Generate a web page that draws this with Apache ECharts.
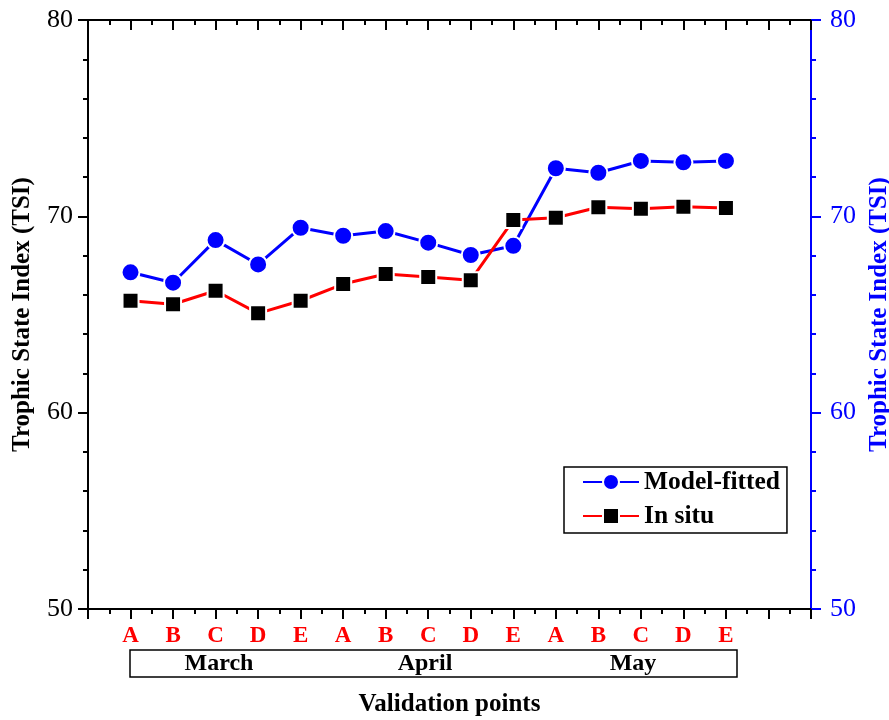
<!DOCTYPE html>
<html>
<head>
<meta charset="utf-8">
<script src="https://cdn.jsdelivr.net/npm/echarts@6/dist/echarts.min.js"></script>
<style>html,body{margin:0;padding:0;background:#fff;}#c{width:889px;height:720px;}</style>
</head>
<body>
<div id="c"></div>
<script>
// ---- data ----
var pointLabels = ['A','B','C','D','E','A','B','C','D','E','A','B','C','D','E'];
var months = ['March','April','May'];
var modelFitted = [67.15,66.62,68.79,67.55,69.42,69.01,69.25,68.66,68.03,68.50,72.45,72.22,72.82,72.75,72.82];
var inSitu = [65.70,65.52,66.21,65.06,65.70,66.55,67.06,66.91,66.75,69.81,69.93,70.46,70.39,70.49,70.42];
var yTicks = [50,60,70,80];

var FONT = '"Liberation Serif","Times New Roman",serif';
function pairs(arr){ return arr.map(function(v,i){ return [i+1, v]; }); }

var chart = echarts.init(document.getElementById('c'));
var option = {
  backgroundColor: '#fff',
  animation: false,
  grid: { left: 88, right: 78, top: 20, bottom: 111, containLabel: false, outerBoundsMode: 'none' },
  legend: {
    orient: 'vertical',
    left: 564, top: 467,
    padding: [2, 7, 4, 18],
    itemGap: 8,
    itemWidth: 56, itemHeight: 20,
    borderColor: '#000', borderWidth: 1.5,
    backgroundColor: '#fff',
    textStyle: { fontFamily: FONT, fontWeight: 'bold', fontSize: 25.5, color: '#000' },
    data: ['Model-fitted', 'In situ']
  },
  xAxis: [{
    type: 'value', min: 0, max: 17, interval: 1,
    position: 'bottom',
    name: 'Validation points', nameLocation: 'middle', nameGap: 83,
    nameTextStyle: { fontFamily: FONT, fontWeight: 'bold', fontSize: 25, color: '#000' },
    axisLine: { show: true, onZero: false, lineStyle: { color: '#000', width: 2 } },
    axisTick: { show: true, inside: false, length: 10, lineStyle: { color: '#000', width: 2 } },
    minorTick: { show: true, splitNumber: 2, length: 5, lineStyle: { color: '#000', width: 2 } },
    splitLine: { show: false },
    axisLabel: {
      margin: 16,
      fontFamily: FONT, fontWeight: 'bold', fontSize: 23, color: '#ff0000',
      formatter: function (v) { return pointLabels[v - 1] || ''; }
    }
  }, {
    type: 'value', min: 0, max: 17, interval: 1,
    position: 'top',
    axisLine: { show: true, onZero: false, lineStyle: { color: '#000', width: 2 } },
    axisTick: { show: true, inside: true, length: 10, lineStyle: { color: '#000', width: 2 } },
    minorTick: { show: true, splitNumber: 2, length: 5, lineStyle: { color: '#000', width: 2 } },
    splitLine: { show: false },
    axisLabel: { show: false }
  }],
  yAxis: [{
    type: 'value', min: yTicks[0], max: yTicks[yTicks.length-1], interval: 10,
    position: 'left',
    name: 'Trophic State Index (TSI)', nameLocation: 'middle', nameGap: 53, nameRotate: 90,
    nameTextStyle: { fontFamily: FONT, fontWeight: 'bold', fontSize: 25, color: '#000' },
    axisLine: { show: true, onZero: false, lineStyle: { color: '#000', width: 2 } },
    axisTick: { show: true, inside: false, length: 10, lineStyle: { color: '#000', width: 2 } },
    minorTick: { show: true, splitNumber: 5, length: 5, lineStyle: { color: '#000', width: 2 } },
    splitLine: { show: false },
    axisLabel: { margin: 15, fontFamily: FONT, fontSize: 26, color: '#000' }
  }, {
    type: 'value', min: yTicks[0], max: yTicks[yTicks.length-1], interval: 10,
    position: 'right',
    name: 'Trophic State Index (TSI)', nameLocation: 'middle', nameGap: 54, nameRotate: 90,
    nameTextStyle: { fontFamily: FONT, fontWeight: 'bold', fontSize: 25, color: '#0000ff' },
    axisLine: { show: true, onZero: false, lineStyle: { color: '#0000ff', width: 2 } },
    axisTick: { show: true, inside: false, length: 10, lineStyle: { color: '#0000ff', width: 2 } },
    minorTick: { show: true, splitNumber: 5, length: 5, lineStyle: { color: '#0000ff', width: 2 } },
    splitLine: { show: false },
    axisLabel: { margin: 19, fontFamily: FONT, fontSize: 26, color: '#0000ff' }
  }],
  series: [{
    name: 'Model-fitted', type: 'line',
    xAxisIndex: 0, yAxisIndex: 1,
    data: pairs(modelFitted),
    symbol: 'circle', symbolSize: 18,
    lineStyle: { color: '#0000ff', width: 3 },
    itemStyle: { color: '#0000ff', borderColor: '#fff', borderWidth: 2 },
    z: 2
  }, {
    name: 'In situ', type: 'line',
    xAxisIndex: 0, yAxisIndex: 0,
    data: pairs(inSitu),
    symbol: 'rect', symbolSize: 16,
    lineStyle: { color: '#ff0000', width: 3 },
    itemStyle: { color: '#000', borderColor: '#fff', borderWidth: 2 },
    z: 3
  }],
  graphic: [
    { type: 'rect', shape: { x: 130, y: 650, width: 607, height: 27 },
      style: { fill: '#fff', stroke: '#000', lineWidth: 1.5 } },
    { type: 'text', x: 219, y: 664, style: { text: months[0], fontFamily: FONT, fontWeight: 'bold', fontSize: 24, fill: '#000', align: 'center', verticalAlign: 'middle' } },
    { type: 'text', x: 425, y: 664, style: { text: months[1], fontFamily: FONT, fontWeight: 'bold', fontSize: 24, fill: '#000', align: 'center', verticalAlign: 'middle' } },
    { type: 'text', x: 633, y: 664, style: { text: months[2], fontFamily: FONT, fontWeight: 'bold', fontSize: 24, fill: '#000', align: 'center', verticalAlign: 'middle' } }
  ]
};
chart.setOption(option);
</script>
</body>
</html>
